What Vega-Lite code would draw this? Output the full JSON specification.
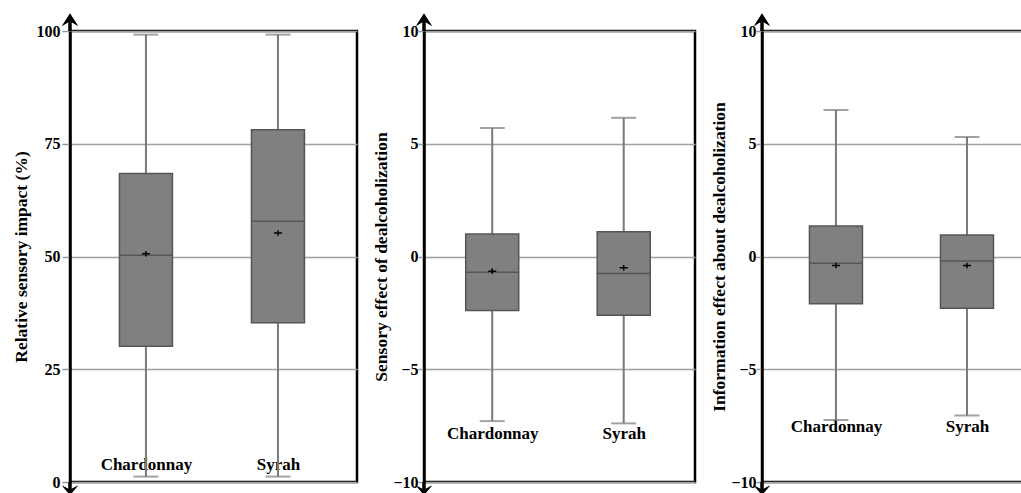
{
  "$schema": "https://vega.github.io/schema/vega-lite/v6.json",
  "background": "white",
  "padding": {"left": 10, "top": 12, "right": 0, "bottom": 0},
  "spacing": 12,
  "data": {"values": [
    {"panel": "rel", "wine": "Chardonnay", "lower": 1.2, "q1": 30.1, "median": 50.3, "q3": 68.4, "upper": 99.2, "mean": 50.6},
    {"panel": "rel", "wine": "Syrah", "lower": 1.2, "q1": 35.3, "median": 57.8, "q3": 78.1, "upper": 99.2, "mean": 55.2},
    {"panel": "sens", "wine": "Chardonnay", "lower": -7.3, "q1": -2.4, "median": -0.7, "q3": 1.0, "upper": 5.7, "mean": -0.65},
    {"panel": "sens", "wine": "Syrah", "lower": -7.4, "q1": -2.6, "median": -0.75, "q3": 1.1, "upper": 6.15, "mean": -0.5},
    {"panel": "info", "wine": "Chardonnay", "lower": -7.25, "q1": -2.1, "median": -0.3, "q3": 1.35, "upper": 6.5, "mean": -0.4},
    {"panel": "info", "wine": "Syrah", "lower": -7.05, "q1": -2.3, "median": -0.2, "q3": 0.95, "upper": 5.3, "mean": -0.4}
  ]},
  "config": {
    "view": {"stroke": "black", "strokeWidth": 2.5},
    "axis": {"labelFont": "Liberation Serif", "labelFontWeight": "bold", "labelFontSize": 16, "labelColor": "black", "titleFont": "Liberation Serif", "titleFontWeight": "bold", "titleFontSize": 17.5, "titleColor": "black"},
    "axisY": {"domainColor": "black", "domainWidth": 2.5, "gridColor": "#a0a0a0", "gridWidth": 1.5, "gridOpacity": 1, "tickColor": "#999999", "tickSize": 8, "tickWidth": 1.5, "labelPadding": 2, "titlePadding": 6},
    "axisX": {"domain": false, "ticks": false, "tickSize": 0, "grid": false, "title": null, "labelAngle": 0, "labelFontSize": 17, "labelBaseline": "middle"}
  },
  "hconcat": [
    {
      "width": 287, "height": 451,
      "transform": [{"filter": "datum.panel == 'rel'"}],
      "encoding": {"x": {"field": "wine", "type": "nominal", "sort": ["Chardonnay", "Syrah"], "scale": {"type": "point", "padding": 0.587, "align": 0.49}, "axis": {"labelPadding": -18}}},
      "layer": [
        {"mark": {"type": "rule", "color": "#7a7a7a", "strokeWidth": 2}, "encoding": {"y": {"field": "lower", "type": "quantitative", "title": "Relative sensory impact (%)", "scale": {"domain": [0, 100], "nice": false, "zero": false}, "axis": {"values": [0, 25, 50, 75, 100]}}, "y2": {"field": "upper"}}},
        {"mark": {"type": "tick", "size": 25, "thickness": 2, "color": "#7a7a7a"}, "encoding": {"y": {"field": "lower", "type": "quantitative", "title": "Relative sensory impact (%)"}}},
        {"mark": {"type": "tick", "size": 25, "thickness": 2, "color": "#7a7a7a"}, "encoding": {"y": {"field": "upper", "type": "quantitative", "title": "Relative sensory impact (%)"}}},
        {"mark": {"type": "bar", "width": 53, "fill": "#808080", "stroke": "#555555", "strokeWidth": 1.5}, "encoding": {"y": {"field": "q1", "type": "quantitative", "title": "Relative sensory impact (%)"}, "y2": {"field": "q3"}}},
        {"mark": {"type": "tick", "size": 53, "thickness": 1.5, "color": "#444444"}, "encoding": {"y": {"field": "median", "type": "quantitative", "title": "Relative sensory impact (%)"}}},
        {"mark": {"type": "point", "shape": "M-1,0L1,0M0,-0.7L0,0.7", "size": 64, "filled": false, "stroke": "black", "strokeWidth": 1.5, "opacity": 1}, "encoding": {"y": {"field": "mean", "type": "quantitative", "title": "Relative sensory impact (%)"}}},
        {"mark": {"type": "point", "shape": "M-0.15,0L-0.15,-0.9L-0.8,-0.5L0,-1.75L0.8,-0.5L0.15,-0.9L0.15,0Z", "size": 400, "filled": true, "color": "black", "opacity": 1}, "encoding": {"x": {"value": 0}, "y": {"datum": 100, "type": "quantitative"}}},
        {"mark": {"type": "point", "shape": "M-0.15,0L-0.15,0.7L-0.8,0.35L0,1.3L0.8,0.35L0.15,0.7L0.15,0Z", "size": 400, "filled": true, "color": "black", "opacity": 1}, "encoding": {"x": {"value": 0}, "y": {"datum": 0, "type": "quantitative"}}}
      ]
    },
    {
      "width": 271, "height": 451,
      "transform": [{"filter": "datum.panel == 'sens'"}],
      "encoding": {"x": {"field": "wine", "type": "nominal", "sort": ["Chardonnay", "Syrah"], "scale": {"type": "point", "padding": 0.5305, "align": 0.489}, "axis": {"labelPadding": -49}}},
      "layer": [
        {"mark": {"type": "rule", "color": "#7a7a7a", "strokeWidth": 2}, "encoding": {"y": {"field": "lower", "type": "quantitative", "title": "Sensory effect of dealcoholization", "scale": {"domain": [-10, 10], "nice": false, "zero": false}, "axis": {"values": [-10, -5, 0, 5, 10], "tickSize": 6, "labelPadding": 0, "titlePadding": 2}}, "y2": {"field": "upper"}}},
        {"mark": {"type": "tick", "size": 25, "thickness": 2, "color": "#7a7a7a"}, "encoding": {"y": {"field": "lower", "type": "quantitative", "title": "Sensory effect of dealcoholization"}}},
        {"mark": {"type": "tick", "size": 25, "thickness": 2, "color": "#7a7a7a"}, "encoding": {"y": {"field": "upper", "type": "quantitative", "title": "Sensory effect of dealcoholization"}}},
        {"mark": {"type": "bar", "width": 53, "fill": "#808080", "stroke": "#555555", "strokeWidth": 1.5}, "encoding": {"y": {"field": "q1", "type": "quantitative", "title": "Sensory effect of dealcoholization"}, "y2": {"field": "q3"}}},
        {"mark": {"type": "tick", "size": 53, "thickness": 1.5, "color": "#444444"}, "encoding": {"y": {"field": "median", "type": "quantitative", "title": "Sensory effect of dealcoholization"}}},
        {"mark": {"type": "point", "shape": "M-1,0L1,0M0,-0.7L0,0.7", "size": 64, "filled": false, "stroke": "black", "strokeWidth": 1.5, "opacity": 1}, "encoding": {"y": {"field": "mean", "type": "quantitative", "title": "Sensory effect of dealcoholization"}}},
        {"mark": {"type": "point", "shape": "M-0.15,0L-0.15,-0.9L-0.8,-0.5L0,-1.75L0.8,-0.5L0.15,-0.9L0.15,0Z", "size": 400, "filled": true, "color": "black", "opacity": 1}, "encoding": {"x": {"value": 0}, "y": {"datum": 10, "type": "quantitative"}}},
        {"mark": {"type": "point", "shape": "M-0.15,0L-0.15,0.7L-0.8,0.35L0,1.3L0.8,0.35L0.15,0.7L0.15,0Z", "size": 400, "filled": true, "color": "black", "opacity": 1}, "encoding": {"x": {"value": 0}, "y": {"datum": -10, "type": "quantitative"}}}
      ]
    },
    {
      "width": 261, "height": 451,
      "transform": [{"filter": "datum.panel == 'info'"}],
      "encoding": {"x": {"field": "wine", "type": "nominal", "sort": ["Chardonnay", "Syrah"], "scale": {"type": "point", "padding": 0.496, "align": 0.569}, "axis": {"labelPadding": -56}}},
      "layer": [
        {"mark": {"type": "rule", "color": "#7a7a7a", "strokeWidth": 2}, "encoding": {"y": {"field": "lower", "type": "quantitative", "title": "Information effect about dealcoholization", "scale": {"domain": [-10, 10], "nice": false, "zero": false}, "axis": {"values": [-10, -5, 0, 5, 10], "tickSize": 6, "labelPadding": 0, "titlePadding": 2}}, "y2": {"field": "upper"}}},
        {"mark": {"type": "tick", "size": 25, "thickness": 2, "color": "#7a7a7a"}, "encoding": {"y": {"field": "lower", "type": "quantitative", "title": "Information effect about dealcoholization"}}},
        {"mark": {"type": "tick", "size": 25, "thickness": 2, "color": "#7a7a7a"}, "encoding": {"y": {"field": "upper", "type": "quantitative", "title": "Information effect about dealcoholization"}}},
        {"mark": {"type": "bar", "width": 53, "fill": "#808080", "stroke": "#555555", "strokeWidth": 1.5}, "encoding": {"y": {"field": "q1", "type": "quantitative", "title": "Information effect about dealcoholization"}, "y2": {"field": "q3"}}},
        {"mark": {"type": "tick", "size": 53, "thickness": 1.5, "color": "#444444"}, "encoding": {"y": {"field": "median", "type": "quantitative", "title": "Information effect about dealcoholization"}}},
        {"mark": {"type": "point", "shape": "M-1,0L1,0M0,-0.7L0,0.7", "size": 64, "filled": false, "stroke": "black", "strokeWidth": 1.5, "opacity": 1}, "encoding": {"y": {"field": "mean", "type": "quantitative", "title": "Information effect about dealcoholization"}}},
        {"mark": {"type": "point", "shape": "M-0.15,0L-0.15,-0.9L-0.8,-0.5L0,-1.75L0.8,-0.5L0.15,-0.9L0.15,0Z", "size": 400, "filled": true, "color": "black", "opacity": 1}, "encoding": {"x": {"value": 0}, "y": {"datum": 10, "type": "quantitative"}}},
        {"mark": {"type": "point", "shape": "M-0.15,0L-0.15,0.7L-0.8,0.35L0,1.3L0.8,0.35L0.15,0.7L0.15,0Z", "size": 400, "filled": true, "color": "black", "opacity": 1}, "encoding": {"x": {"value": 0}, "y": {"datum": -10, "type": "quantitative"}}}
      ]
    }
  ]
}
